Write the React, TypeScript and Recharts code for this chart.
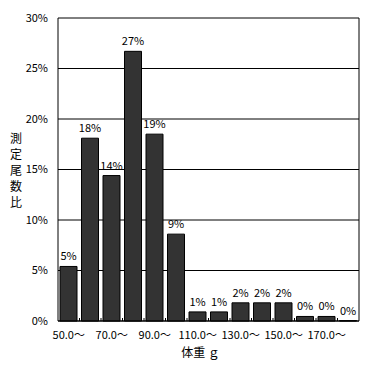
import { BarChart, Bar, XAxis, YAxis, CartesianGrid, LabelList, Label } from "recharts";

const categories = ["50.0〜", "60.0〜", "70.0〜", "80.0〜", "90.0〜", "100.0〜", "110.0〜", "120.0〜", "130.0〜", "140.0〜", "150.0〜", "160.0〜", "170.0〜", "180.0〜"];
const ratios = [5.4, 18.1, 14.4, 26.7, 18.5, 8.6, 0.9, 0.9, 1.8, 1.8, 1.8, 0.45, 0.45, 0.04];
const yTicks = [0, 5, 10, 15, 20, 25, 30];
const yTitle = ["測", "定", "尾", "数", "比"];

const data = categories.map((c, i) => ({ name: c, value: ratios[i] }));

const font = "'Noto Sans CJK JP', sans-serif";
const TICK_MARGIN = 10;
const BAND = (372 - 58 - 13) / categories.length;

function YTitle(props: any) {
  const vb = props.viewBox || {};
  const cy = vb.y + vb.height / 2;
  return (
    <g>
      {yTitle.map((ch, i) => (
        <text key={ch} x={16} y={cy + (i - 2) * 16} textAnchor="middle" dominantBaseline="central" fontSize={12} fontFamily={font} fill="#000">
          {ch}
        </text>
      ))}
    </g>
  );
}

function XTick(props: any) {
  const { x, y, payload, index } = props;
  const axisY = y - TICK_MARGIN;
  const left = x - BAND / 2;
  return (
    <g>
      {index > 0 && <line x1={left} x2={left} y1={axisY} y2={axisY - 3} stroke="#000" />}
      {index % 2 === 0 && (
        <text x={x} y={y} dy="0.71em" textAnchor="middle" fontSize={11} fontFamily={font} fill="#000">
          {payload.value}
        </text>
      )}
    </g>
  );
}

export default function App() {
  return (
    <div style={{ width: 372, height: 366, background: "#fff" }}>
      <style>{`body{margin:0}`}</style>
      <BarChart width={372} height={366} data={data} margin={{ top: 18, right: 13, left: 0, bottom: 0 }} barSize={17}>
        <CartesianGrid horizontal vertical verticalPoints={[359]} stroke="#000" strokeWidth={1} />
        <XAxis
          dataKey="name"
          interval={0}
          stroke="#000"
          tickLine={false}
          tickSize={0}
          tick={<XTick />}
          tickMargin={TICK_MARGIN}
          height={45}
        >
          <Label value="体重 ｇ" position="insideBottom" offset={9} dx={-8} style={{ fill: "#000", fontSize: 12, fontFamily: font }} />
        </XAxis>
        <YAxis
          domain={[0, 30]}
          ticks={yTicks}
          width={58}
          stroke="#000"
          tickLine={false}
          tickSize={0}
          tickFormatter={(v) => `${v}%`}
          tick={{ fill: "#000", fontSize: 11, fontFamily: font }}
          tickMargin={10}
        >
          <Label content={<YTitle />} />
        </YAxis>
        <Bar dataKey="value" fill="#333333" stroke="#000" strokeWidth={1} isAnimationActive={false}>
          <LabelList
            dataKey="value"
            position="top"
            offset={6}
            formatter={(v: any) => `${Math.round(v)}%`}
            style={{ fill: "#000", fontSize: 11, fontFamily: font }}
          />
        </Bar>
      </BarChart>
    </div>
  );
}
